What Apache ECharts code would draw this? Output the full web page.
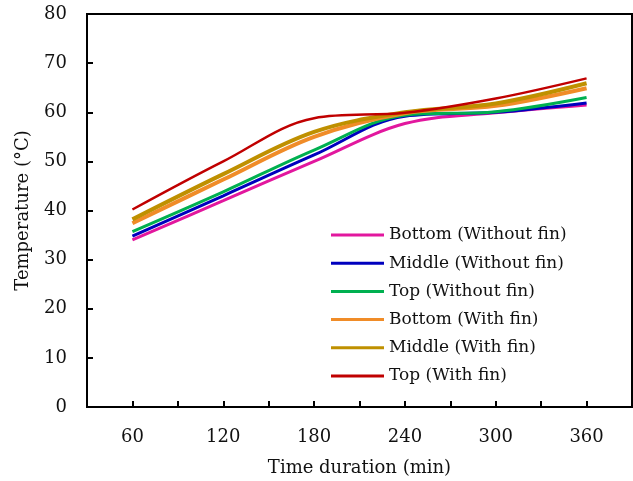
<!DOCTYPE html>
<html>
<head>
<meta charset="utf-8">
<script src="https://cdn.jsdelivr.net/npm/echarts@6/dist/echarts.min.js"></script>
<style>html,body{margin:0;padding:0;background:#fff}#c{width:633px;height:481px}</style>
</head>
<body>
<div id="c"></div>
<script>
const times = [60, 120, 180, 240, 300, 360];
const seriesNames = ['Bottom (Without fin)', 'Middle (Without fin)', 'Top (Without fin)', 'Bottom (With fin)', 'Middle (With fin)', 'Top (With fin)'];
const bottomWithout = [34.0, 42.0, 50.0, 57.7, 59.9, 61.5];
const middleWithout = [34.8, 43.0, 51.3, 59.2, 60.0, 61.9];
const topWithout = [35.7, 43.8, 52.3, 59.4, 60.1, 63.0];
const bottomWith = [37.4, 46.3, 55.0, 59.8, 61.3, 64.9];
const middleWith = [38.2, 47.4, 56.0, 60.0, 61.8, 65.9];
const topWith = [40.2, 50.0, 58.8, 59.9, 62.8, 66.9];
const yTicks = [0, 10, 20, 30, 40, 50, 60, 70, 80];
const xTickLabels = [60, 120, 180, 240, 300, 360];

const allValues = [bottomWithout, middleWithout, topWithout, bottomWith, middleWith, topWith];
const colors = ['#E2179E', '#0000BE', '#00B050', '#F08C28', '#BF9000', '#C00000'];
const widths = [3, 3, 3, 4, 4, 2.5];
const FONT = 'DejaVu Serif';

const chart = echarts.init(document.getElementById('c'), null, {renderer: 'canvas'});
chart.setOption({
  animation: false,
  backgroundColor: '#fff',
  grid: {left: 87, top: 14, right: 1, bottom: 74, show: true, borderColor: '#000', borderWidth: 2,
    containLabel: false, outerBoundsMode: 'none'},
  legend: {
    orient: 'vertical', left: 326, top: 220, itemGap: 8.2, itemWidth: 53, itemHeight: 3,
    icon: 'rect', padding: 5,
    textStyle: {fontFamily: FONT, fontSize: 17, lineHeight: 20, color: '#111'},
    data: seriesNames.map((n, i) => ({name: n, itemStyle: {color: colors[i]}}))
  },
  xAxis: {
    type: 'value', min: 30, max: 390, interval: 30,
    name: 'Time duration (min)', nameLocation: 'middle', nameGap: 52,
    nameTextStyle: {fontFamily: FONT, fontSize: 18, color: '#111'},
    axisLine: {show: true, lineStyle: {color: '#000', width: 2}},
    axisTick: {show: true, inside: true, length: 6, lineStyle: {color: '#000', width: 2}},
    splitLine: {show: false},
    axisLabel: {fontFamily: FONT, fontSize: 18, color: '#111', margin: 21,
      formatter: v => (xTickLabels.indexOf(v) >= 0 ? String(v) : '')}
  },
  yAxis: {
    type: 'value', min: yTicks[0], max: yTicks[yTicks.length - 1], interval: 10,
    name: 'Temperature (°C)', nameLocation: 'middle', nameGap: 55,
    nameTextStyle: {fontFamily: FONT, fontSize: 18, color: '#111'},
    axisLine: {show: true, lineStyle: {color: '#000', width: 2}},
    axisTick: {show: true, inside: true, length: 6, lineStyle: {color: '#000', width: 2}},
    splitLine: {show: false},
    axisLabel: {fontFamily: FONT, fontSize: 18, color: '#111', margin: 20}
  },
  series: allValues.map((vals, i) => ({
    name: seriesNames[i], type: 'line', smooth: 0.35, showSymbol: false, symbol: 'none',
    data: times.map((t, j) => [t, vals[j]]),
    lineStyle: {color: colors[i], width: widths[i]},
    itemStyle: {color: colors[i]}
  }))
});
</script>
</body>
</html>
